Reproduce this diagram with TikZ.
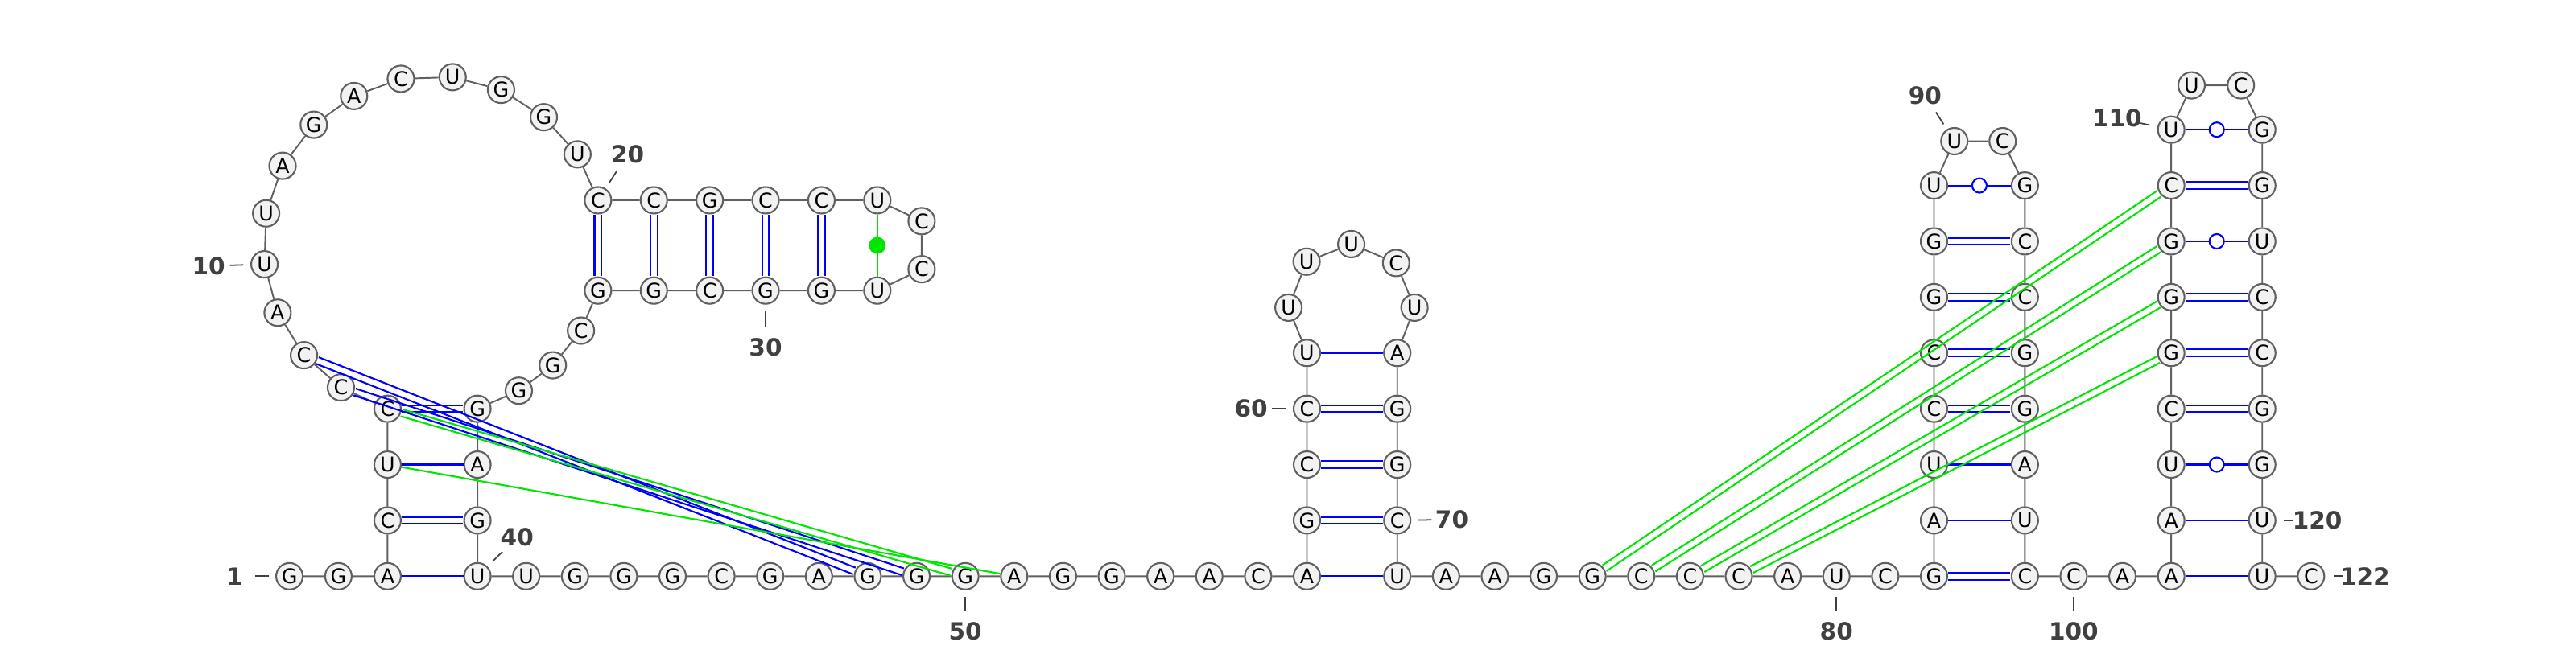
\documentclass[tikz,border=0pt]{standalone}
\usepackage{fontspec}
\setsansfont{DejaVu Sans}
\renewcommand{\familydefault}{\sfdefault}
\usetikzlibrary{calc}
\definecolor{ntline}{RGB}{96,96,96}
\definecolor{ntfill}{RGB}{242,242,242}
\definecolor{pairblue}{RGB}{0,0,255}
\definecolor{pairgreen}{RGB}{0,230,0}
\definecolor{numgray}{RGB}{64,64,64}
% two parallel lines between two bases
\newcommand{\dblpair}[3]{%
  \draw[#1] ($(#2)!1.25pt!90:(#3)$) -- ($(#3)!1.25pt!-90:(#2)$);
  \draw[#1] ($(#2)!1.25pt!-90:(#3)$) -- ($(#3)!1.25pt!90:(#2)$);}

\begin{document}
\begin{tikzpicture}[x=0.20408mm, y=-0.20408mm]
      \tikzset{ nt/.style ={circle, draw=ntline, fill=ntfill, line width=0.6pt, minimum size=3.3mm, inner sep=0pt, text=black, font=\fontsize{7.2}{8}\selectfont} }
      \tikzset{ bb/.style ={draw=ntline, line width=0.55pt} }
      \tikzset{ wc/.style ={draw=pairblue, line width=0.6pt} }
      \tikzset{ pk/.style ={draw=pairgreen, line width=0.6pt} }
      \tikzset{ dbl/.style={shorten <=1.8mm, shorten >=1.8mm} }
      \tikzset{ wob/.style={circle, draw=pairblue, fill=white, line width=0.6pt, minimum size=1.8mm, inner sep=0pt} }
      \tikzset{ dot/.style={circle, fill=pairgreen, minimum size=2.1mm, inner sep=0pt} }
      \tikzset{ num/.style={text=numgray, inner sep=0pt, font=\bfseries\fontsize{8.4}{9}\selectfont} }
      \tikzset{ tck/.style={draw=numgray, line width=0.5pt} }

      \path[use as bounding box] (0,0) rectangle (1568,398);

      % 5' strand and first stem
      \node[nt] (n1)   at ( 176.2, 351.0) {G};
      \node[nt] (n2)   at ( 206.0, 351.0) {G};
      \node[nt] (n3)   at ( 235.9, 351.0) {A};
      \node[nt] (n4)   at ( 235.9, 317.0) {C};
      \node[nt] (n5)   at ( 235.9, 283.0) {U};
      \node[nt] (n6)   at ( 235.9, 249.0) {C};
      \node[nt] (n7)   at ( 207.5, 236.0) {C};
      \node[nt] (n8)   at ( 185.0, 216.4) {C};
      \node[nt] (n9)   at ( 169.0, 190.5) {A};
      \node[nt] (n10)  at ( 161.0, 161.0) {U};
      \node[nt] (n11)  at ( 162.0, 130.0) {U};
      \node[nt] (n12)  at ( 172.0, 101.0) {A};
      \node[nt] (n13)  at ( 191.0,  76.0) {G};
      \node[nt] (n14)  at ( 215.5,  58.5) {A};
      \node[nt] (n15)  at ( 244.0,  48.0) {C};
      \node[nt] (n16)  at ( 275.5,  47.0) {U};
      \node[nt] (n17)  at ( 305.0,  54.7) {G};
      \node[nt] (n18)  at ( 331.0,  71.4) {G};
      \node[nt] (n19)  at ( 351.5,  94.0) {U};
      \node[nt] (n20)  at ( 364.0, 122.0) {C};
      \node[nt] (n21)  at ( 398.0, 122.0) {C};
      \node[nt] (n22)  at ( 432.0, 122.0) {G};
      \node[nt] (n23)  at ( 466.0, 122.0) {C};
      \node[nt] (n24)  at ( 500.0, 122.0) {C};
      \node[nt] (n25)  at ( 534.0, 122.0) {U};
      \node[nt] (n26)  at ( 561.0, 134.7) {C};
      \node[nt] (n27)  at ( 561.0, 164.0) {C};
      \node[nt] (n28)  at ( 534.0, 177.0) {U};
      \node[nt] (n29)  at ( 500.0, 177.0) {G};
      \node[nt] (n30)  at ( 466.0, 177.0) {G};
      \node[nt] (n31)  at ( 432.0, 177.0) {C};
      \node[nt] (n32)  at ( 398.0, 177.0) {G};
      \node[nt] (n33)  at ( 364.0, 177.0) {G};
      \node[nt] (n34)  at ( 353.6, 201.4) {C};
      \node[nt] (n35)  at ( 336.5, 222.5) {G};
      \node[nt] (n36)  at ( 315.8, 238.0) {G};
      \node[nt] (n37)  at ( 290.6, 249.0) {G};
      \node[nt] (n38)  at ( 290.6, 283.0) {A};
      \node[nt] (n39)  at ( 290.6, 317.0) {G};
      \node[nt] (n40)  at ( 290.6, 351.0) {U};
      \node[nt] (n41)  at ( 320.3, 351.0) {U};
      \node[nt] (n42)  at ( 350.0, 351.0) {G};
      \node[nt] (n43)  at ( 379.7, 351.0) {G};
      \node[nt] (n44)  at ( 409.4, 351.0) {G};
      \node[nt] (n45)  at ( 439.1, 351.0) {C};
      \node[nt] (n46)  at ( 468.8, 351.0) {G};
      \node[nt] (n47)  at ( 498.5, 351.0) {A};
      \node[nt] (n48)  at ( 528.2, 351.0) {G};
      \node[nt] (n49)  at ( 557.9, 351.0) {G};
      \node[nt] (n50)  at ( 587.6, 351.0) {G};
      \node[nt] (n51)  at ( 617.3, 351.0) {A};
      \node[nt] (n52)  at ( 647.0, 351.0) {G};
      \node[nt] (n53)  at ( 676.7, 351.0) {G};
      \node[nt] (n54)  at ( 706.4, 351.0) {A};
      \node[nt] (n55)  at ( 736.1, 351.0) {A};
      \node[nt] (n56)  at ( 765.8, 351.0) {C};
      % middle hairpin
      \node[nt] (n57)  at ( 795.5, 351.0) {A};
      \node[nt] (n58)  at ( 795.5, 317.0) {G};
      \node[nt] (n59)  at ( 795.5, 283.0) {C};
      \node[nt] (n60)  at ( 795.5, 249.0) {C};
      \node[nt] (n61)  at ( 795.5, 215.0) {U};
      \node[nt] (n62)  at ( 784.3, 187.4) {U};
      \node[nt] (n63)  at ( 795.3, 159.4) {U};
      \node[nt] (n64)  at ( 822.5, 148.7) {U};
      \node[nt] (n65)  at ( 849.8, 160.2) {C};
      \node[nt] (n66)  at ( 861.0, 187.4) {U};
      \node[nt] (n67)  at ( 850.5, 215.0) {A};
      \node[nt] (n68)  at ( 850.5, 249.0) {G};
      \node[nt] (n69)  at ( 850.5, 283.0) {G};
      \node[nt] (n70)  at ( 850.5, 317.0) {C};
      \node[nt] (n71)  at ( 850.5, 351.0) {U};
      \node[nt] (n72)  at ( 880.2, 351.0) {A};
      \node[nt] (n73)  at ( 909.9, 351.0) {A};
      \node[nt] (n74)  at ( 939.6, 351.0) {G};
      \node[nt] (n75)  at ( 969.3, 351.0) {G};
      \node[nt] (n76)  at ( 999.0, 351.0) {C};
      \node[nt] (n77)  at (1028.7, 351.0) {C};
      \node[nt] (n78)  at (1058.4, 351.0) {C};
      \node[nt] (n79)  at (1088.1, 351.0) {A};
      \node[nt] (n80)  at (1117.8, 351.0) {U};
      \node[nt] (n81)  at (1147.5, 351.0) {C};
      % 3' hairpins
      \node[nt] (n82)  at (1177.2, 351.0) {G};
      \node[nt] (n83)  at (1177.2, 317.0) {A};
      \node[nt] (n84)  at (1177.2, 283.0) {U};
      \node[nt] (n85)  at (1177.2, 249.0) {C};
      \node[nt] (n86)  at (1177.2, 215.0) {C};
      \node[nt] (n87)  at (1177.2, 181.0) {G};
      \node[nt] (n88)  at (1177.2, 147.0) {G};
      \node[nt] (n89)  at (1177.2, 113.0) {U};
      \node[nt] (n90)  at (1189.6,  86.0) {U};
      \node[nt] (n91)  at (1219.0,  86.0) {C};
      \node[nt] (n92)  at (1232.5, 113.0) {G};
      \node[nt] (n93)  at (1232.5, 147.0) {C};
      \node[nt] (n94)  at (1232.5, 181.0) {C};
      \node[nt] (n95)  at (1232.5, 215.0) {G};
      \node[nt] (n96)  at (1232.5, 249.0) {G};
      \node[nt] (n97)  at (1232.5, 283.0) {A};
      \node[nt] (n98)  at (1232.5, 317.0) {U};
      \node[nt] (n99)  at (1232.5, 351.0) {C};
      \node[nt] (n100) at (1262.2, 351.0) {C};
      \node[nt] (n101) at (1291.9, 351.0) {A};
      \node[nt] (n102) at (1321.6, 351.0) {A};
      \node[nt] (n103) at (1321.6, 317.0) {A};
      \node[nt] (n104) at (1321.6, 283.0) {U};
      \node[nt] (n105) at (1321.6, 249.0) {C};
      \node[nt] (n106) at (1321.6, 215.0) {G};
      \node[nt] (n107) at (1321.6, 181.0) {G};
      \node[nt] (n108) at (1321.6, 147.0) {G};
      \node[nt] (n109) at (1321.6, 113.0) {C};
      \node[nt] (n110) at (1321.6,  79.0) {U};
      \node[nt] (n111) at (1334.0,  52.0) {U};
      \node[nt] (n112) at (1364.0,  52.0) {C};
      \node[nt] (n113) at (1377.0,  79.0) {G};
      \node[nt] (n114) at (1377.0, 113.0) {G};
      \node[nt] (n115) at (1377.0, 147.0) {U};
      \node[nt] (n116) at (1377.0, 181.0) {C};
      \node[nt] (n117) at (1377.0, 215.0) {C};
      \node[nt] (n118) at (1377.0, 249.0) {G};
      \node[nt] (n119) at (1377.0, 283.0) {G};
      \node[nt] (n120) at (1377.0, 317.0) {U};
      \node[nt] (n121) at (1377.0, 351.0) {U};
      \node[nt] (n122) at (1406.7, 351.0) {C};

      % backbone
      \draw[bb] (n1) -- (n2) -- (n3) -- (n4) -- (n5) -- (n6) -- (n7) -- (n8) -- (n9) -- (n10) -- (n11) -- (n12) -- (n13) -- (n14) -- (n15) -- (n16) -- (n17) -- (n18) -- (n19) -- (n20)
                -- (n21) -- (n22) -- (n23) -- (n24) -- (n25) -- (n26) -- (n27) -- (n28) -- (n29) -- (n30) -- (n31) -- (n32) -- (n33) -- (n34) -- (n35) -- (n36) -- (n37) -- (n38) -- (n39) -- (n40)
                -- (n41) -- (n42) -- (n43) -- (n44) -- (n45) -- (n46) -- (n47) -- (n48) -- (n49) -- (n50) -- (n51) -- (n52) -- (n53) -- (n54) -- (n55) -- (n56) -- (n57) -- (n58) -- (n59) -- (n60)
                -- (n61) -- (n62) -- (n63) -- (n64) -- (n65) -- (n66) -- (n67) -- (n68) -- (n69) -- (n70) -- (n71) -- (n72) -- (n73) -- (n74) -- (n75) -- (n76) -- (n77) -- (n78) -- (n79) -- (n80)
                -- (n81) -- (n82) -- (n83) -- (n84) -- (n85) -- (n86) -- (n87) -- (n88) -- (n89) -- (n90) -- (n91) -- (n92) -- (n93) -- (n94) -- (n95) -- (n96) -- (n97) -- (n98) -- (n99) -- (n100)
                -- (n101) -- (n102) -- (n103) -- (n104) -- (n105) -- (n106) -- (n107) -- (n108) -- (n109) -- (n110) -- (n111) -- (n112) -- (n113) -- (n114) -- (n115) -- (n116) -- (n117) -- (n118) -- (n119) -- (n120)
                -- (n121) -- (n122);

      % base pairs
      \draw[wc] (n3) -- (n40);
      \dblpair{wc,dbl}{n4}{n39}
      \draw[wc] (n5) -- (n38);
      \dblpair{wc,dbl}{n6}{n37}
      \dblpair{wc,dbl}{n20}{n33}
      \dblpair{wc,dbl}{n21}{n32}
      \dblpair{wc,dbl}{n22}{n31}
      \dblpair{wc,dbl}{n23}{n30}
      \dblpair{wc,dbl}{n24}{n29}
      \draw[pk] (n25) -- (n28) node[dot, midway] (d25) {};
      \draw[wc] (n57) -- (n71);
      \dblpair{wc,dbl}{n58}{n70}
      \dblpair{wc,dbl}{n59}{n69}
      \dblpair{wc,dbl}{n60}{n68}
      \draw[wc] (n61) -- (n67);
      \dblpair{wc,dbl}{n82}{n99}
      \draw[wc] (n83) -- (n98);
      \draw[wc] (n84) -- (n97);
      \dblpair{wc,dbl}{n85}{n96}
      \dblpair{wc,dbl}{n86}{n95}
      \dblpair{wc,dbl}{n87}{n94}
      \dblpair{wc,dbl}{n88}{n93}
      \draw[wc] (n89) -- (n92) node[wob, midway] (w89) {};
      \draw[wc] (n102) -- (n121);
      \draw[wc] (n103) -- (n120);
      \draw[wc] (n104) -- (n119) node[wob, midway] (w104) {};
      \dblpair{wc,dbl}{n105}{n118}
      \dblpair{wc,dbl}{n106}{n117}
      \dblpair{wc,dbl}{n107}{n116}
      \draw[wc] (n108) -- (n115) node[wob, midway] (w108) {};
      \dblpair{wc,dbl}{n109}{n114}
      \draw[wc] (n110) -- (n113) node[wob, midway] (w110) {};

      % pseudoknots
      \dblpair{wc,dbl}{n8}{n48}
      \dblpair{wc,dbl}{n7}{n49}
      \dblpair{pk,dbl}{n6}{n50}
      \draw[pk] (n5) -- (n51);
      \dblpair{pk,dbl}{n75}{n109}
      \dblpair{pk,dbl}{n76}{n108}
      \dblpair{pk,dbl}{n77}{n107}
      \dblpair{pk,dbl}{n78}{n106}

      % numbering
      \node[num] (l1)   at ( 142.8, 351.0) {1};
      \node[num] (l10)  at ( 127.0, 162.0) {10};
      \node[num] (l20)  at ( 382.0,  94.0) {20};
      \node[num] (l30)  at ( 466.0, 211.5) {30};
      \node[num] (l40)  at ( 314.7, 327.4) {40};
      \node[num] (l50)  at ( 587.6, 384.6) {50};
      \node[num] (l60)  at ( 761.5, 249.0) {60};
      \node[num] (l70)  at ( 883.7, 316.5) {70};
      \node[num] (l80)  at (1117.8, 384.6) {80};
      \node[num] (l90)  at (1171.8,  58.0) {90};
      \node[num] (l100) at (1262.2, 384.6) {100};
      \node[num] (l110) at (1288.6,  72.0) {110};
      \node[num] (l120) at (1410.5, 317.0) {120};
      \node[num] (l122) at (1439.5, 351.0) {122};
      \draw[tck] ($(n1)!0.38!(l1)$)     -- ($(n1)!0.62!(l1)$);
      \draw[tck] ($(n10)!0.38!(l10)$)   -- ($(n10)!0.62!(l10)$);
      \draw[tck] ($(n20)!0.37!(l20)$)   -- ($(n20)!0.63!(l20)$);
      \draw[tck] ($(n30)!0.37!(l30)$)   -- ($(n30)!0.63!(l30)$);
      \draw[tck] ($(n40)!0.38!(l40)$)   -- ($(n40)!0.63!(l40)$);
      \draw[tck] ($(n50)!0.37!(l50)$)   -- ($(n50)!0.63!(l50)$);
      \draw[tck] ($(n60)!0.37!(l60)$)   -- ($(n60)!0.62!(l60)$);
      \draw[tck] ($(n70)!0.37!(l70)$)   -- ($(n70)!0.63!(l70)$);
      \draw[tck] ($(n80)!0.37!(l80)$)   -- ($(n80)!0.63!(l80)$);
      \draw[tck] ($(n90)!0.37!(l90)$)   -- ($(n90)!0.63!(l90)$);
      \draw[tck] ($(n100)!0.37!(l100)$) -- ($(n100)!0.63!(l100)$);
      \draw[tck] ($(n110)!0.40!(l110)$) -- ($(n110)!0.60!(l110)$);
      \draw[tck] ($(n120)!0.39!(l120)$) -- ($(n120)!0.55!(l120)$);
      \draw[tck] ($(n122)!0.42!(l122)$) -- ($(n122)!0.58!(l122)$);
\end{tikzpicture}
\end{document}
